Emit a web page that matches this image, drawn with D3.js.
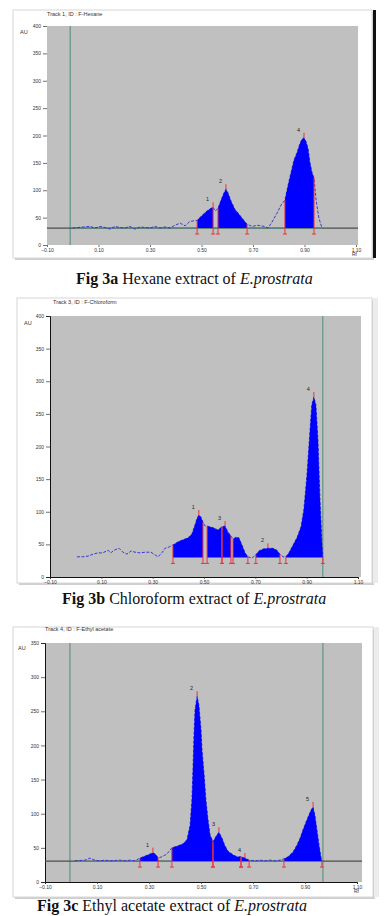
<!DOCTYPE html>
<html>
<head>
<meta charset="utf-8">
<script src="https://cdn.jsdelivr.net/npm/d3@7"></script>
<style>
  body { margin: 0; background: #fff; }
  svg { display: block; font-family: "Liberation Sans", Arial, sans-serif; }
  .tick text { font-size: 5px; fill: #333; }
  .cap { font-family: "Liberation Serif", "Times New Roman", serif; font-size: 16px; fill: #111; }
</style>
</head>
<body>
<svg id="fig" width="389" height="916"></svg>
<script>
// Rf axis ticks, shared by all three densitograms
const rfTicks = [-0.1, 0.1, 0.3, 0.5, 0.7, 0.9, 1.1];
const auTicks400 = [0, 50, 100, 150, 200, 250, 300, 350, 400];
const auTicks350 = [0, 50, 100, 150, 200, 250, 300, 350];

// Fig 3a - hexane, trace as [Rf, AU]
const hexaneTrace = [
  [0.00,31],[0.067,34],[0.086,31],[0.106,34],[0.125,32],[0.145,29],[0.164,34],[0.183,32],
  [0.203,31],[0.222,34],[0.242,29],[0.261,33],[0.280,32],[0.300,31],[0.319,34],[0.339,31],
  [0.358,33],[0.378,31],[0.397,36],[0.417,40],[0.436,35],[0.455,43],[0.483,45],[0.502,54],
  [0.521,62],[0.537,67],[0.545,69],[0.553,62],[0.564,67],[0.576,82],[0.588,96],[0.595,102],
  [0.603,95],[0.615,80],[0.630,65],[0.646,56],[0.661,47],[0.677,38],[0.696,34],[0.719,36],
  [0.743,34],[0.758,31],[0.774,42],[0.793,58],[0.809,73],[0.824,82],[0.836,109],[0.848,133],
  [0.859,155],[0.871,169],[0.882,185],[0.890,193],[0.898,196],[0.906,189],[0.914,176],
  [0.921,151],[0.929,133],[0.937,122],[0.945,82],[0.956,49],[0.968,31]
];
const hexaneWindows = [[0.483,0.545],[0.564,0.677],[0.824,0.937]];
const hexanePeaks = [["1",0.545,69],["2",0.595,102],["4",0.898,196]];

// Fig 3b - chloroform
const chloroTrace = [
  [0.005,31],[0.029,31],[0.048,32],[0.068,35],[0.087,37],[0.106,37],[0.126,41],[0.137,37],
  [0.149,41],[0.169,44],[0.184,38],[0.200,35],[0.216,40],[0.231,38],[0.251,37],[0.270,38],
  [0.293,38],[0.309,34],[0.321,31],[0.336,37],[0.348,44],[0.364,46],[0.379,49],[0.399,54],
  [0.418,57],[0.438,60],[0.453,66],[0.465,80],[0.473,90],[0.480,95],[0.488,92],[0.496,84],
  [0.504,78],[0.512,78],[0.523,77],[0.539,75],[0.554,72],[0.570,77],[0.582,78],[0.593,69],
  [0.605,63],[0.613,58],[0.624,61],[0.636,60],[0.648,49],[0.660,37],[0.671,31],[0.687,29],
  [0.702,34],[0.714,40],[0.730,43],[0.749,44],[0.769,44],[0.784,41],[0.796,35],[0.808,31],
  [0.819,31],[0.831,37],[0.847,49],[0.862,60],[0.878,77],[0.889,103],[0.901,156],[0.913,225],
  [0.920,264],[0.928,276],[0.936,264],[0.944,210],[0.952,118],[0.960,49],[0.963,31]
];
const chloroWindows = [[0.379,0.496],[0.512,0.570],[0.570,0.605],[0.613,0.671],[0.702,0.796],[0.819,0.963]];
const chloroPeaks = [["1",0.480,95],["3",0.582,78],["2",0.749,44],["4",0.928,276]];

// Fig 3c - ethyl acetate
const ethylTrace = [
  [0.015,31],[0.054,32],[0.073,35],[0.092,32],[0.112,31],[0.131,32],[0.150,31],[0.188,32],
  [0.208,31],[0.227,32],[0.246,31],[0.265,35],[0.285,38],[0.304,41],[0.315,43],[0.327,40],
  [0.335,35],[0.350,37],[0.369,41],[0.388,50],[0.412,53],[0.431,56],[0.446,62],[0.458,83],
  [0.465,120],[0.469,164],[0.473,215],[0.477,252],[0.485,272],[0.492,259],[0.500,223],
  [0.504,193],[0.512,157],[0.519,120],[0.527,91],[0.535,69],[0.546,59],[0.558,67],[0.569,73],
  [0.581,64],[0.592,53],[0.604,45],[0.623,40],[0.638,37],[0.654,37],[0.669,35],[0.685,32],
  [0.708,31],[0.727,32],[0.746,31],[0.765,32],[0.785,31],[0.804,32],[0.819,34],[0.835,37],
  [0.854,44],[0.869,54],[0.881,64],[0.892,76],[0.904,88],[0.915,98],[0.923,105],[0.931,110],
  [0.938,98],[0.946,76],[0.954,54],[0.962,35],[0.965,31]
];
const ethylWindows = [[0.265,0.335],[0.388,0.546],[0.546,0.654],[0.654,0.685],[0.819,0.965]];
const ethylPeaks = [["1",0.315,43],["2",0.485,272],["3",0.569,73],["4",0.669,35],["5",0.931,110]];

const panels = [
  { title: "Track 1, ID : F-Hexane", trace: hexaneTrace, windows: hexaneWindows, peaks: hexanePeaks,
    frame: [13, 10, 359, 248], plot: [47, 26, 311, 219], xRange: [47, 356], yTicks: auTicks400,
    base: 31, startLine: -0.01, frontLine: null, baseLine: true, axisLines: false,
    titleXY: [47, 16], auXY: [20, 34], rfXY: [352, 256], edge: "bar",
    caption: ["Fig 3a", " Hexane extract of "], capXY: [76, 284] },
  { title: "Track 3, ID : F-Chloroform", trace: chloroTrace, windows: chloroWindows, peaks: chloroPeaks,
    frame: [17, 298, 355, 285], plot: [50, 316, 311, 261], xRange: [50, 358], yTicks: auTicks400,
    base: 30, startLine: null, frontLine: 0.963, baseLine: false, axisLines: true,
    titleXY: [53, 304], auXY: [24, 325], rfXY: null, edge: "shade",
    caption: ["Fig 3b", " Chloroform extract of "], capXY: [62, 604] },
  { title: "Track 4, ID : F-Ethyl acetate", trace: ethylTrace, windows: ethylWindows, peaks: ethylPeaks,
    frame: [13, 627, 360, 270], plot: [45, 643, 317, 239], xRange: [45, 357], yTicks: auTicks350,
    base: 30.7, startLine: -0.004, frontLine: 0.969, baseLine: true, axisLines: true,
    titleXY: [45, 631], auXY: [18, 650], rfXY: [354, 893], edge: "shade",
    caption: ["Fig 3c", " Ethyl acetate extract of "], capXY: [37, 911] }
];

const svg = d3.select("#fig");

function drawPanel(p) {
  const g = svg.append("g");
  const [fx, fy, fw, fh] = p.frame;
  const [px, py, pw, ph] = p.plot;

  // window frame
  g.append("rect").attr("x", fx + 2).attr("y", fy + 2).attr("width", fw).attr("height", fh)
    .attr("fill", "#cfcfcf");
  g.append("rect").attr("x", fx).attr("y", fy).attr("width", fw).attr("height", fh)
    .attr("fill", "#fff").attr("stroke", "#d6d6d6");
  if (p.edge === "bar") {
    g.append("rect").attr("x", fx + fw + 1).attr("y", fy).attr("width", 3).attr("height", fh)
      .attr("fill", "#111");
  } else {
    g.append("rect").attr("x", fx + fw + 1).attr("y", fy).attr("width", 5).attr("height", fh)
      .attr("fill", "#ececec");
  }

  g.append("rect").attr("x", px).attr("y", py).attr("width", pw).attr("height", ph)
    .attr("fill", "#c0c0c0");

  const x = d3.scaleLinear().domain([-0.1, 1.1]).range(p.xRange);
  const yMax = d3.max(p.yTicks);
  const y = d3.scaleLinear().domain([0, yMax]).range([py + ph, py]);

  // axes
  const ya = g.append("g").attr("transform", "translate(" + px + ",0)")
    .call(d3.axisLeft(y).tickValues(p.yTicks).tickSize(4).tickPadding(2));
  const xa = g.append("g").attr("transform", "translate(0," + (py + ph) + ")")
    .call(d3.axisBottom(x).tickValues(rfTicks).tickFormat(d3.format(".2f")).tickSize(2).tickPadding(1));
  [ya, xa].forEach(a => {
    a.selectAll("line").attr("stroke", "#333").attr("stroke-width", 0.7);
    a.select(".domain").attr("stroke", p.axisLines ? "#111" : "none").attr("stroke-width", 1);
  });

  // start / front lines
  [p.startLine, p.frontLine].filter(v => v !== null).forEach(v => {
    g.append("line").attr("x1", x(v)).attr("x2", x(v)).attr("y1", py).attr("y2", py + ph)
      .attr("stroke", "#4e8c7c").attr("stroke-width", 1);
  });

  // baseline
  if (p.baseLine) {
    g.append("line").attr("x1", px).attr("x2", px + pw).attr("y1", y(p.base)).attr("y2", y(p.base))
      .attr("stroke", "#4a4f4e").attr("stroke-width", 1.2);
    const t0 = p.trace[0][0], t1 = p.trace[p.trace.length - 1][0];
    g.append("line").attr("x1", x(t0)).attr("x2", x(t1)).attr("y1", y(p.base)).attr("y2", y(p.base))
      .attr("stroke", "#5e8a80").attr("stroke-width", 1.2);
  }

  // raw trace, dashed
  const line = d3.line().x(d => x(d[0])).y(d => y(d[1]));
  g.append("path").datum(p.trace).attr("d", line)
    .attr("fill", "none").attr("stroke", "#2a2ad6").attr("stroke-width", 0.9)
    .attr("stroke-dasharray", "3,1.5");

  // integrated peak areas
  const area = d3.area().x(d => x(d[0])).y0(y(p.base)).y1(d => y(d[1]));
  p.windows.forEach(w => {
    const pts = p.trace.filter(d => d[0] >= w[0] - 1e-9 && d[0] <= w[1] + 1e-9);
    g.append("path").datum(pts).attr("d", area).attr("fill", "#0000ff");
  });

  // red boundary markers
  const red = "#f0303c";
  p.windows.forEach(w => {
    w.forEach(rf => {
      const pt = p.trace.find(d => Math.abs(d[0] - rf) < 1e-9);
      const xx = x(rf);
      g.append("line").attr("x1", xx).attr("x2", xx).attr("y1", y(p.base) + 6).attr("y2", y(pt[1]))
        .attr("stroke", red).attr("stroke-width", 1);
      g.append("line").attr("x1", xx - 2).attr("x2", xx + 2)
        .attr("y1", y(p.base) + 6).attr("y2", y(p.base) + 6)
        .attr("stroke", red).attr("stroke-width", 1);
    });
  });

  // peak apex ticks and numbers
  p.peaks.forEach(([n, rf, au]) => {
    g.append("line").attr("x1", x(rf)).attr("x2", x(rf)).attr("y1", y(au)).attr("y2", y(au) - 5)
      .attr("stroke", red).attr("stroke-width", 1);
    g.append("text").attr("x", x(rf) - 7).attr("y", y(au) - 6)
      .attr("font-size", 5.5).attr("fill", "#222").text(n);
  });

  // texts
  g.append("text").attr("x", p.titleXY[0]).attr("y", p.titleXY[1])
    .attr("font-size", 5.5).attr("fill", "#333").text(p.title);
  g.append("text").attr("x", p.auXY[0]).attr("y", p.auXY[1])
    .attr("font-size", 5.5).attr("fill", "#333").text("AU");
  if (p.rfXY) {
    g.append("text").attr("x", p.rfXY[0]).attr("y", p.rfXY[1])
      .attr("font-size", 5).attr("fill", "#333").text("Rf");
  }

  const cap = svg.append("text").attr("class", "cap")
    .attr("x", p.capXY[0]).attr("y", p.capXY[1]);
  cap.append("tspan").attr("font-weight", "bold").text(p.caption[0]);
  cap.append("tspan").text(p.caption[1]);
  cap.append("tspan").attr("font-style", "italic").text("E.prostrata");
}

panels.forEach(drawPanel);
</script>
</body>
</html>
